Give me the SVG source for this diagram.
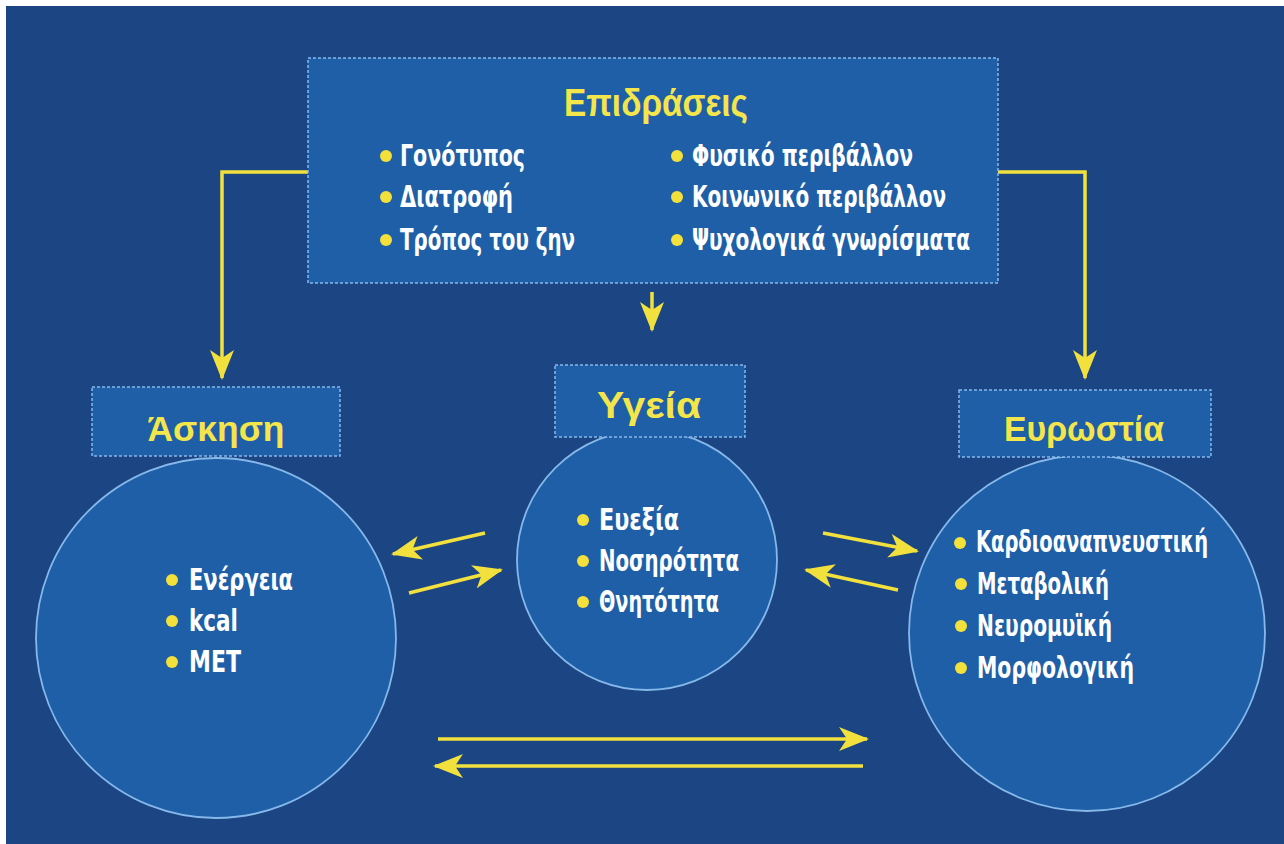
<svg xmlns="http://www.w3.org/2000/svg" width="1284" height="844" viewBox="0 0 1284 844">
<defs>
<marker id="ah" viewBox="0 0 30 24" refX="28" refY="12" markerWidth="30" markerHeight="24" markerUnits="userSpaceOnUse" orient="auto">
<path d="M0,0 L30,12 L0,24 L8,12 z" fill="#f2e13c"/>
</marker>
<style>
.bg{fill:#1c4584}
.box{fill:#1e5fa7;stroke:#86b8ea;stroke-width:1.5;stroke-dasharray:3 2}
.circ{fill:#1e5fa7;stroke:#86b8ea;stroke-width:1.8}
.title{font-family:"Liberation Sans",Arial,sans-serif;font-weight:bold;fill:#f4e64a;text-anchor:middle}
.item{font-family:"DejaVu Sans Condensed","DejaVu Sans",sans-serif;font-weight:bold;font-stretch:condensed;fill:#ffffff;font-size:30px}
.dot{fill:#f4e03a}
.conn{fill:none;stroke:#f2e13c;stroke-width:3.5;marker-end:url(#ah)}
</style>
</defs>
<rect x="0" y="0" width="1284" height="844" fill="#ffffff"/>
<rect class="bg" x="6" y="6" width="1278" height="838"/>

<g id="connectors">
<path class="conn" d="M308,172 H222 V378"/>
<path class="conn" d="M998,172 H1085 V378"/>
<path class="conn" d="M652,292 V330"/>
<path class="conn" d="M485,533 L393,554"/>
<path class="conn" d="M409,593 L501,570"/>
<path class="conn" d="M823,533 L917,551"/>
<path class="conn" d="M898,590 L806,570"/>
<path class="conn" d="M438,739 H867"/>
<path class="conn" d="M863,766 H435"/>
</g>

<g id="epidraseis">
<rect class="box" x="308" y="58" width="690" height="225"/>
<text class="title" x="656" y="116" font-size="38" textLength="184" lengthAdjust="spacingAndGlyphs">Επιδράσεις</text>
<circle class="dot" cx="386" cy="156" r="6"/>
<text class="item" x="400" y="166" textLength="125" lengthAdjust="spacingAndGlyphs">Γονότυπος</text>
<circle class="dot" cx="386" cy="197" r="6"/>
<text class="item" x="400" y="207" textLength="113" lengthAdjust="spacingAndGlyphs">Διατροφή</text>
<circle class="dot" cx="386" cy="240" r="6"/>
<text class="item" x="400" y="250" textLength="175" lengthAdjust="spacingAndGlyphs">Τρόπος του ζην</text>
<circle class="dot" cx="677" cy="156" r="6"/>
<text class="item" x="692" y="166" textLength="221" lengthAdjust="spacingAndGlyphs">Φυσικό περιβάλλον</text>
<circle class="dot" cx="677" cy="197" r="6"/>
<text class="item" x="692" y="207" textLength="254" lengthAdjust="spacingAndGlyphs">Κοινωνικό περιβάλλον</text>
<circle class="dot" cx="677" cy="240" r="6"/>
<text class="item" x="692" y="250" textLength="278" lengthAdjust="spacingAndGlyphs">Ψυχολογικά γνωρίσματα</text>
</g>

<g id="askisi">
<circle class="circ" cx="216" cy="638" r="180"/>
<rect class="box" x="92" y="387" width="248" height="69"/>
<text class="title" x="216" y="441" font-size="35" textLength="137" lengthAdjust="spacingAndGlyphs">Άσκηση</text>
<circle class="dot" cx="172" cy="580" r="6"/>
<text class="item" x="189" y="590" textLength="104" lengthAdjust="spacingAndGlyphs">Ενέργεια</text>
<circle class="dot" cx="172" cy="621" r="6"/>
<text class="item" x="189" y="631" textLength="49" lengthAdjust="spacingAndGlyphs">kcal</text>
<circle class="dot" cx="172" cy="662" r="6"/>
<text class="item" x="189" y="672" textLength="52" lengthAdjust="spacingAndGlyphs">MET</text>
</g>

<g id="ygeia">
<circle class="circ" cx="647" cy="560" r="130"/>
<rect class="box" x="555" y="365" width="190" height="72"/>
<text class="title" x="649" y="418" font-size="36" textLength="104" lengthAdjust="spacingAndGlyphs">Υγεία</text>
<circle class="dot" cx="583" cy="520" r="6"/>
<text class="item" x="599" y="530" textLength="80" lengthAdjust="spacingAndGlyphs">Ευεξία</text>
<circle class="dot" cx="583" cy="561" r="6"/>
<text class="item" x="599" y="571" textLength="140" lengthAdjust="spacingAndGlyphs">Νοσηρότητα</text>
<circle class="dot" cx="583" cy="602" r="6"/>
<text class="item" x="599" y="612" textLength="120" lengthAdjust="spacingAndGlyphs">Θνητότητα</text>
</g>

<g id="evrostia">
<circle class="circ" cx="1087" cy="633" r="178"/>
<rect class="box" x="959" y="390" width="252" height="67"/>
<text class="title" x="1084" y="441" font-size="35" textLength="160" lengthAdjust="spacingAndGlyphs">Ευρωστία</text>
<circle class="dot" cx="960" cy="543" r="6"/>
<text class="item" x="976" y="552" font-size="26" textLength="232" lengthAdjust="spacingAndGlyphs">Καρδιοαναπνευστική</text>
<circle class="dot" cx="961" cy="584" r="6"/>
<text class="item" x="977" y="594" textLength="132" lengthAdjust="spacingAndGlyphs">Μεταβολική</text>
<circle class="dot" cx="961" cy="626" r="6"/>
<text class="item" x="977" y="636" textLength="135" lengthAdjust="spacingAndGlyphs">Νευρομυϊκή</text>
<circle class="dot" cx="961" cy="668" r="6"/>
<text class="item" x="977" y="678" textLength="157" lengthAdjust="spacingAndGlyphs">Μορφολογική</text>
</g>
</svg>
